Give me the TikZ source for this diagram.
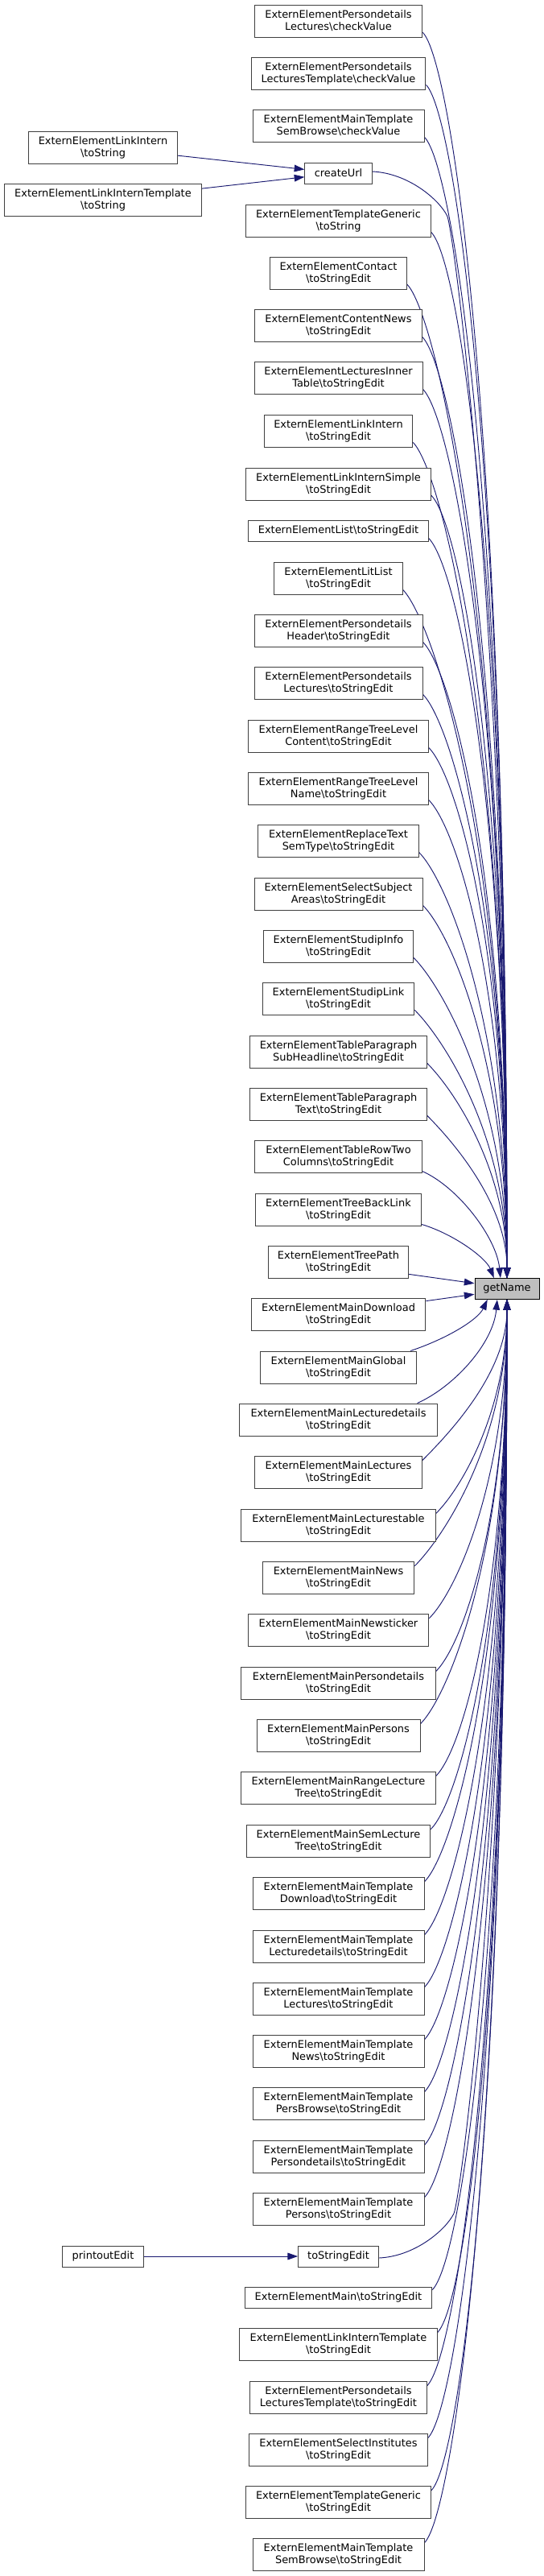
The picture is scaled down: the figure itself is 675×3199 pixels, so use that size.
\documentclass[tikz,border=0pt]{standalone}
\usepackage{fontspec}
\setmainfont{DejaVu Sans}
\usetikzlibrary{arrows.meta,calc,backgrounds}
\definecolor{edgeblue}{RGB}{25,25,112}
\definecolor{boxgrey}{RGB}{64,64,64}
\definecolor{rootfill}{RGB}{191,191,191}
\newcommand{\bsl}{\textbackslash}
\begin{document}
\begin{tikzpicture}[x=0.75pt,y=-0.75pt,
  box/.style={draw=boxgrey, line width=0.75pt, fill=white, inner xsep=2pt, inner ysep=1pt,
    align=center, font=\fontsize{9.7pt}{11.25pt}\selectfont, minimum height=30pt},
  box1/.style={box, minimum height=19.5pt},
  bw/.style={minimum width=#1*0.75pt},
  edge/.style={draw=edgeblue, line width=0.7pt, -{Triangle[length=9.5pt,width=6.5pt]}}
]
\useasboundingbox (0,0) rectangle (675,3199);

% left column
\node[box,bw=184.4] (li)  at (128,183) {ExternElementLinkIntern\\\bsl toString};
\node[box,bw=245]   (lit) at (128,248) {ExternElementLinkInternTemplate\\\bsl toString};
\node[box1,bw=100.2] (pe) at (128,2802) {printoutEdit};

% root
\node[box1,bw=80,fill=rootfill,draw=black] (g) at (630,1600.5) {getName};

% main column
\node[box,bw=208.7] (n1) at (420.5,26) {ExternElementPersondetails\\Lectures\bsl checkValue};
\node[box,bw=216.9] (n2) at (420.5,91) {ExternElementPersondetails\\LecturesTemplate\bsl checkValue};
\node[box,bw=213]   (n3) at (420.5,156) {ExternElementMainTemplate\\SemBrowse\bsl checkValue};
\node[box1,bw=83.3] (cu) at (420.5,215) {createUrl};
\node[box,bw=229.5] (n4) at (420.5,274) {ExternElementTemplateGeneric\\\bsl toString};
\node[box,bw=170]   (n5) at (420.5,339) {ExternElementContact\\\bsl toStringEdit};
\node[box,bw=207.4] (n6) at (420.5,404) {ExternElementContentNews\\\bsl toStringEdit};
\node[box,bw=209]   (n7) at (420.5,469) {ExternElementLecturesInner\\Table\bsl toStringEdit};
\node[box,bw=184.4] (n8) at (420.5,535) {ExternElementLinkIntern\\\bsl toStringEdit};
\node[box,bw=230]   (n9) at (420.5,601) {ExternElementLinkInternSimple\\\bsl toStringEdit};
\node[box1,bw=223.4] (n10) at (420.5,659) {ExternElementList\bsl toStringEdit};
\node[box,bw=159.2] (n11) at (420.5,718) {ExternElementLitList\\\bsl toStringEdit};
\node[box,bw=209]   (n12) at (420.5,783) {ExternElementPersondetails\\Header\bsl toStringEdit};
\node[box,bw=209]   (n13) at (420.5,848) {ExternElementPersondetails\\Lectures\bsl toStringEdit};
\node[box,bw=223.4] (n14) at (420.5,914) {ExternElementRangeTreeLevel\\Content\bsl toStringEdit};
\node[box,bw=223.4] (n15) at (420.5,979) {ExternElementRangeTreeLevel\\Name\bsl toStringEdit};
\node[box,bw=199.1] (n16) at (420.5,1044) {ExternElementReplaceText\\SemType\bsl toStringEdit};
\node[box,bw=209]   (n17) at (420.5,1110) {ExternElementSelectSubject\\Areas\bsl toStringEdit};
\node[box,bw=186.1] (n18) at (420.5,1175) {ExternElementStudipInfo\\\bsl toStringEdit};
\node[box,bw=188.7] (n19) at (420.5,1240) {ExternElementStudipLink\\\bsl toStringEdit};
\node[box,bw=219.5] (n20) at (420.5,1306) {ExternElementTableParagraph\\SubHeadline\bsl toStringEdit};
\node[box,bw=219.5] (n21) at (420.5,1371) {ExternElementTableParagraph\\Text\bsl toStringEdit};
\node[box,bw=207.4] (n22) at (420.5,1436) {ExternElementTableRowTwo\\Columns\bsl toStringEdit};
\node[box,bw=206]   (n23) at (420.5,1502) {ExternElementTreeBackLink\\\bsl toStringEdit};
\node[box,bw=174.4] (n24) at (420.5,1567) {ExternElementTreePath\\\bsl toStringEdit};
\node[box,bw=216.9] (n25) at (420.5,1632) {ExternElementMainDownload\\\bsl toStringEdit};
\node[box,bw=194.4] (n26) at (420.5,1698) {ExternElementMainGlobal\\\bsl toStringEdit};
\node[box,bw=245.1] (n27) at (420.5,1763) {ExternElementMainLecturedetails\\\bsl toStringEdit};
\node[box,bw=207.4] (n28) at (420.5,1828) {ExternElementMainLectures\\\bsl toStringEdit};
\node[box,bw=241.2] (n29) at (420.5,1894) {ExternElementMainLecturestable\\\bsl toStringEdit};
\node[box,bw=188.7] (n30) at (420.5,1959) {ExternElementMainNews\\\bsl toStringEdit};
\node[box,bw=224.7] (n31) at (420.5,2024) {ExternElementMainNewsticker\\\bsl toStringEdit};
\node[box,bw=241.2] (n32) at (420.5,2090) {ExternElementMainPersondetails\\\bsl toStringEdit};
\node[box,bw=203]   (n33) at (420.5,2155) {ExternElementMainPersons\\\bsl toStringEdit};
\node[box,bw=241.2] (n34) at (420.5,2220) {ExternElementMainRangeLecture\\Tree\bsl toStringEdit};
\node[box,bw=228.6] (n35) at (420.5,2286) {ExternElementMainSemLecture\\Tree\bsl toStringEdit};
\node[box,bw=213]   (n36) at (420.5,2351) {ExternElementMainTemplate\\Download\bsl toStringEdit};
\node[box,bw=213]   (n37) at (420.5,2417) {ExternElementMainTemplate\\Lecturedetails\bsl toStringEdit};
\node[box,bw=213]   (n38) at (420.5,2482) {ExternElementMainTemplate\\Lectures\bsl toStringEdit};
\node[box,bw=213]   (n39) at (420.5,2547) {ExternElementMainTemplate\\News\bsl toStringEdit};
\node[box,bw=213]   (n40) at (420.5,2612) {ExternElementMainTemplate\\PersBrowse\bsl toStringEdit};
\node[box,bw=213]   (n41) at (420.5,2678) {ExternElementMainTemplate\\Persondetails\bsl toStringEdit};
\node[box,bw=213]   (n42) at (420.5,2743) {ExternElementMainTemplate\\Persons\bsl toStringEdit};
\node[box1,bw=99.8] (te) at (420.5,2802) {toStringEdit};
\node[box1,bw=232.5] (n43) at (420.5,2853) {ExternElementMain\bsl toStringEdit};
\node[box,bw=245.1] (n44) at (420.5,2911) {ExternElementLinkInternTemplate\\\bsl toStringEdit};
\node[box,bw=219.5] (n45) at (420.5,2977) {ExternElementPersondetails\\LecturesTemplate\bsl toStringEdit};
\node[box,bw=221.3] (n46) at (420.5,3042) {ExternElementSelectInstitutes\\\bsl toStringEdit};
\node[box,bw=230]   (n47) at (420.5,3107) {ExternElementTemplateGeneric\\\bsl toStringEdit};
\node[box,bw=213]   (n48) at (420.5,3172) {ExternElementMainTemplate\\SemBrowse\bsl toStringEdit};

\begin{pgfonlayer}{background}
% left edges
\draw[edge] (li) -- (cu);
\draw[edge] (lit) -- (cu);
\draw[edge] (pe) -- (te);

% upper callers
\foreach \n/\y in {n1/26,n2/91,n3/156,n4/274,n5/339,n6/404,n7/469,n8/535,n9/601,n10/659,
  n11/718,n12/783,n13/848,n14/914,n15/979,n16/1044,n17/1110,n18/1175,n19/1240,n20/1306,n21/1371}{
  \pgfmathsetmacro\dy{1600-\y}
  \pgfmathsetmacro\d{\dy*(0.75*\dy/(\dy+150))}
  \draw[edge] ($(\n.east)!0.7!(\n.south east)$) .. controls +(35,35) and +(0,-\d) .. (g);
}
\draw[edge] ([yshift=1.5pt]cu.east) .. controls +(45,2) and +(-10,-20) .. +(93,55)
  .. controls +(8,16) and +(0,-820) .. (g);

% lower callers
\foreach \n/\y in {n28/1828,n29/1894,n30/1959,n31/2024,n32/2090,n33/2155,n34/2220,n35/2286,
  n36/2351,n37/2417,n38/2482,n39/2547,n40/2612,n41/2678,n42/2743,n43/2853,n44/2911,
  n45/2977,n46/3042,n47/3107,n48/3172}{
  \pgfmathsetmacro\dy{\y-1600}
  \pgfmathsetmacro\d{\dy*(0.75*\dy/(\dy+150))}
  \draw[edge] ($(\n.east)!0.7!(\n.north east)$) .. controls +(35,-35) and +(0,\d) .. (g);
}
\draw[edge] ([yshift=-1.5pt]te.east) .. controls +(45,-2) and +(-10,20) .. +(93,-55)
  .. controls +(8,-16) and +(0,700) .. (g);

% near callers
\draw[edge] ($(n22.east)!0.9!(n22.south east)$) .. controls +(45,20) and +(-5,-50) .. ($(g.north west)!0.4!(g.north east)$);
\draw[edge] ($(n23.east)!0.9!(n23.south east)$) .. controls +(40,12) and +(-10,-25) .. ($(g.north west)!0.3!(g.north east)$);
\draw[edge] ($(n24.east)!0.75!(n24.south east)$) -- ($(g.west)!0.5!(g.north west)$);
\draw[edge] ($(n25.east)!0.8!(n25.north east)$) -- ($(g.west)!0.5!(g.south west)$);
\draw[edge] ($(n26.north east)+(-8,0)$) .. controls +(45,-15) and +(-12,25) .. ($(g.south west)!0.2!(g.south east)$);
\draw[edge] ($(n27.north east)+(-25,0)$) .. controls +(45,-20) and +(-5,55) .. ($(g.south west)!0.35!(g.south east)$);
\end{pgfonlayer}
\end{tikzpicture}
\end{document}
